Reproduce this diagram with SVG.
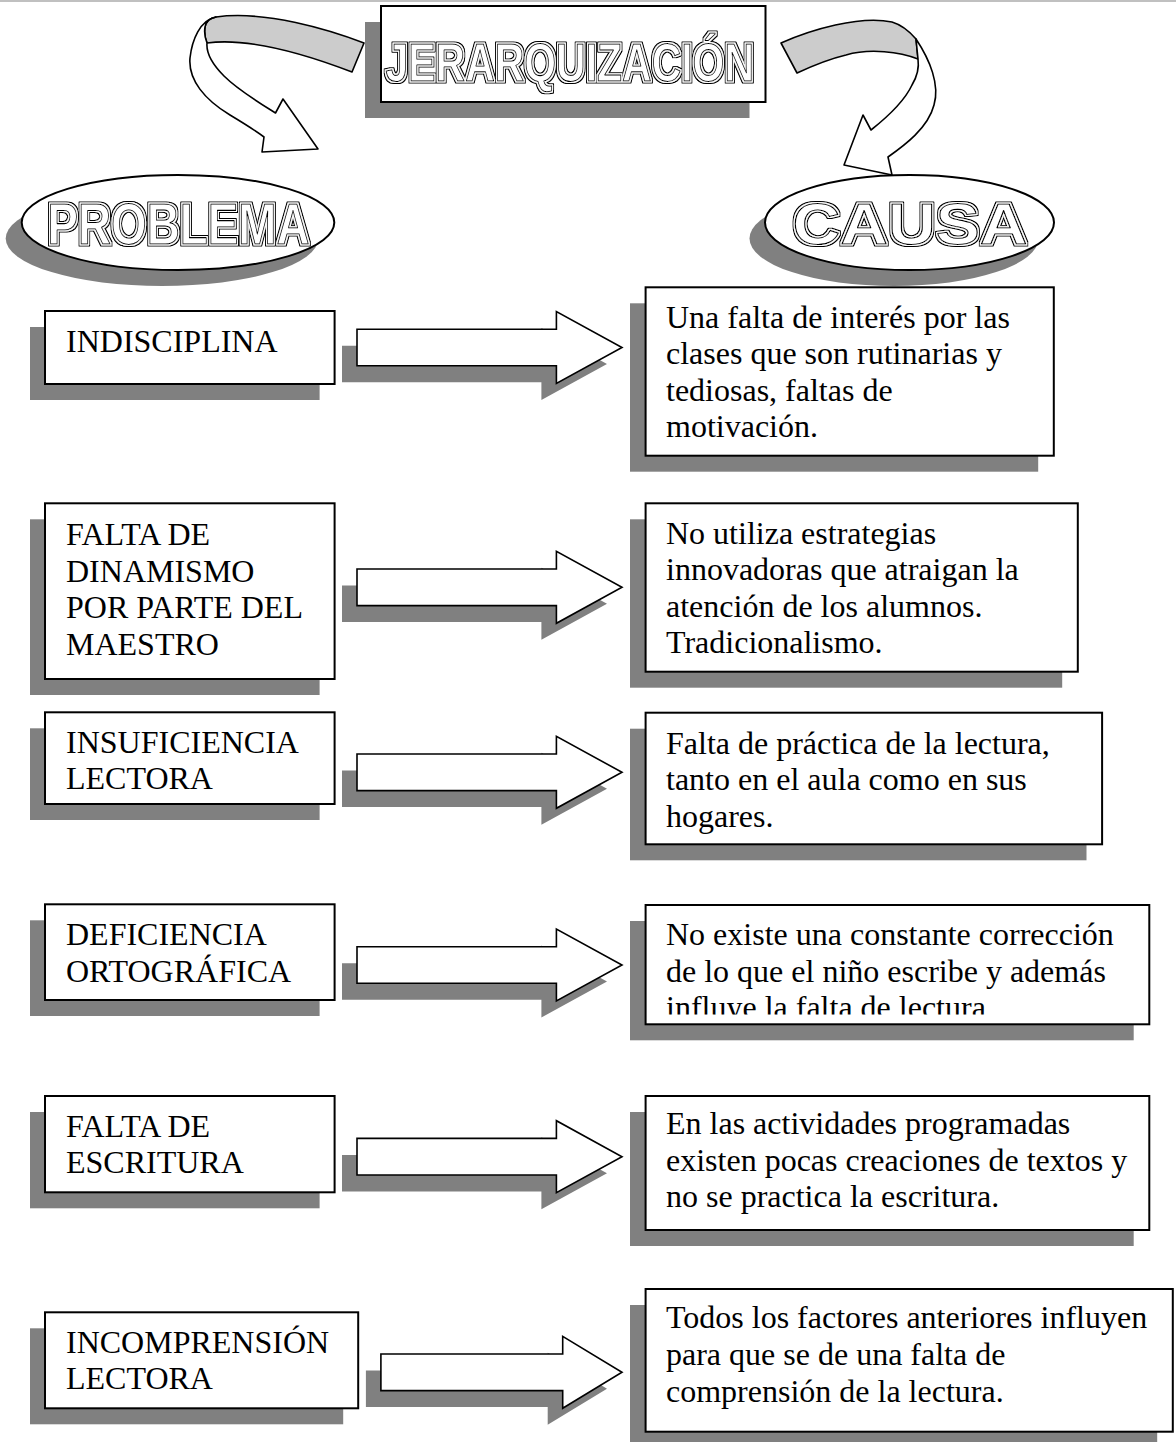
<svg xmlns="http://www.w3.org/2000/svg" width="1176" height="1442" viewBox="0 0 1176 1442">
<defs>
<style>
.box{fill:#fff;stroke:#000;stroke-width:2}
.sh{fill:#808080;stroke:none}
.arr{fill:#fff;stroke:#000;stroke-width:1.6;stroke-linejoin:miter}
.t{font-family:"Liberation Serif","Times New Roman",serif;font-size:32px;fill:#000}
.ol{font-family:"Liberation Sans Narrow","Liberation Sans",Arial,sans-serif;font-weight:bold;fill:#fff;stroke:#000;stroke-width:1.1;stroke-linejoin:round;filter:url(#dbl)}
.band{fill:#ccc;stroke:#000;stroke-width:1.6;stroke-linejoin:round}
.rib{fill:#fff;stroke:#000;stroke-width:1.6;stroke-linejoin:round}
.ell{fill:#fff;stroke:#000;stroke-width:2}
</style>
<filter id="dbl" x="-5%" y="-25%" width="110%" height="150%">
<feMorphology in="SourceAlpha" operator="dilate" radius="2.3" result="o"/>
<feMorphology in="SourceAlpha" operator="dilate" radius="1.4" result="i"/>
<feFlood flood-color="#fff" result="w"/>
<feComposite in="w" in2="i" operator="in" result="wi"/>
<feMerge><feMergeNode in="o"/><feMergeNode in="wi"/><feMergeNode in="SourceGraphic"/></feMerge>
</filter>
<path id="a1" d="M357,-18.3 H556.4 V-36 L622,0 L556.4,36 V18.3 H357 Z"/>
<path id="a2" d="M380.9,-18.3 H562.7 V-36 L622,0 L562.7,36 V18.3 H380.9 Z"/>
<clipPath id="c4"><rect x="640" y="900" width="520" height="114.5"/></clipPath>
</defs>

<rect width="1176" height="1442" fill="#fff"/>
<line x1="0" y1="1" x2="1176" y2="1" stroke="#c0c0c0" stroke-width="2"/>

<g id="connectors">
  <g id="curve-left">
    <path class="band" d="M364,43 C330,30 265,10 216,17 C210,18 206,22 205,27 C204,33 205,38 207,43 C245,38 300,52 352,72 Z"/>
    <path class="rib" d="M216,17 C200,20 192,40 190,58 C188,80 205,100 230,115 C245,124 256,131 264,137 L262,152 L318,149 L283,99 L275.5,113 C258,102 238,90 224,76 C212,64 206,54 207,43 C205,38 204,33 205,27 C206,22 210,18 216,17 Z"/>
  </g>
  <g id="curve-right">
    <path class="band" d="M781,43 C810,30 860,15 892,22 C902,25 910,32 916,39 L918,59 C900,52 870,48 846,55 C825,60 810,67 797,73 Z"/>
    <path class="rib" d="M916,39 C930,60 940,85 934,105 C928,128 905,145 888,157 L892,175 L844,165 L863,115 L871,130 C890,115 905,100 912,85 C918,75 919,66 918,59 Z"/>
  </g>
  <g id="arrow1"><use href="#a1" class="sh" transform="translate(-15,364)"/><use href="#a1" class="arr" transform="translate(0,347.5)"/></g>
  <g id="arrow2"><use href="#a1" class="sh" transform="translate(-15,603.8)"/><use href="#a1" class="arr" transform="translate(0,587.3)"/></g>
  <g id="arrow3"><use href="#a1" class="sh" transform="translate(-15,788.8)"/><use href="#a1" class="arr" transform="translate(0,772.3)"/></g>
  <g id="arrow4"><use href="#a1" class="sh" transform="translate(-15,981.5)"/><use href="#a1" class="arr" transform="translate(0,965)"/></g>
  <g id="arrow5"><use href="#a1" class="sh" transform="translate(-15,1173.2)"/><use href="#a1" class="arr" transform="translate(0,1156.7)"/></g>
  <g id="arrow6"><use href="#a2" class="sh" transform="translate(-15,1388.8)"/><use href="#a2" class="arr" transform="translate(0,1372.3)"/></g>
</g>

<g id="jerarquizacion">
  <rect class="sh" x="365" y="22" width="384.5" height="96"/>
  <rect class="box" x="381" y="6" width="384.5" height="96"/>
  <text class="ol" x="385.5" y="81" font-size="53" textLength="368.5" lengthAdjust="spacingAndGlyphs">JERARQUIZACIÓN</text>
</g>

<g id="problema">
  <ellipse class="sh" cx="162" cy="238.5" rx="156.3" ry="47.5"/>
  <ellipse class="ell" cx="178" cy="222.5" rx="156.3" ry="47.5"/>
  <text class="ol" x="47.5" y="243.5" font-size="57" textLength="262" lengthAdjust="spacingAndGlyphs">PROBLEMA</text>
</g>

<g id="causa">
  <ellipse class="sh" cx="894" cy="238.5" rx="144.5" ry="47.5"/>
  <ellipse class="ell" cx="909.5" cy="222.5" rx="144.5" ry="47.5"/>
  <text class="ol" x="792.5" y="243.5" font-size="57" textLength="235" lengthAdjust="spacingAndGlyphs">CAUSA</text>
</g>

<g id="p1">
  <rect class="sh" x="30" y="327" width="289.6" height="73"/>
  <rect class="box" x="45" y="311" width="289.6" height="73"/>
  <text class="t" x="66" y="352.3">INDISCIPLINA</text>
</g>
<g id="p2">
  <rect class="sh" x="30" y="519.3" width="289.6" height="175.7"/>
  <rect class="box" x="45" y="503.3" width="289.6" height="175.7"/>
  <text class="t"><tspan x="66" y="545">FALTA DE</tspan><tspan x="66" y="581.5">DINAMISMO</tspan><tspan x="66" y="618">POR PARTE DEL</tspan><tspan x="66" y="654.5">MAESTRO</tspan></text>
</g>
<g id="p3">
  <rect class="sh" x="30" y="728.3" width="289.6" height="91.7"/>
  <rect class="box" x="45" y="712.3" width="289.6" height="91.7"/>
  <text class="t"><tspan x="66" y="752.7">INSUFICIENCIA</tspan><tspan x="66" y="789.3">LECTORA</tspan></text>
</g>
<g id="p4">
  <rect class="sh" x="30" y="920.3" width="289.6" height="95.7"/>
  <rect class="box" x="45" y="904.3" width="289.6" height="95.7"/>
  <text class="t"><tspan x="66" y="945">DEFICIENCIA</tspan><tspan x="66" y="981.7">ORTOGRÁFICA</tspan></text>
</g>
<g id="p5">
  <rect class="sh" x="30" y="1112" width="289.6" height="96.3"/>
  <rect class="box" x="45" y="1096" width="289.6" height="96.3"/>
  <text class="t"><tspan x="66" y="1136.7">FALTA DE</tspan><tspan x="66" y="1173.3">ESCRITURA</tspan></text>
</g>
<g id="p6">
  <rect class="sh" x="30" y="1328.3" width="313.2" height="96"/>
  <rect class="box" x="45" y="1312.3" width="313.2" height="96"/>
  <text class="t"><tspan x="66" y="1353.3">INCOMPRENSIÓN</tspan><tspan x="66" y="1389.3">LECTORA</tspan></text>
</g>

<g id="c1">
  <rect class="sh" x="630" y="303.3" width="408.2" height="168.4"/>
  <rect class="box" x="645.6" y="287.3" width="408.2" height="168.4"/>
  <text class="t"><tspan x="666" y="327.5">Una falta de interés por las</tspan><tspan x="666" y="364">clases que son rutinarias y</tspan><tspan x="666" y="400.5">tediosas, faltas de</tspan><tspan x="666" y="437">motivación.</tspan></text>
</g>
<g id="c2">
  <rect class="sh" x="630" y="519.3" width="432.2" height="168.4"/>
  <rect class="box" x="645.6" y="503.3" width="432.2" height="168.4"/>
  <text class="t"><tspan x="666" y="543.5">No utiliza estrategias</tspan><tspan x="666" y="580">innovadoras que atraigan la</tspan><tspan x="666" y="616.5">atención de los alumnos.</tspan><tspan x="666" y="653">Tradicionalismo.</tspan></text>
</g>
<g id="c3">
  <rect class="sh" x="630" y="728.7" width="456.5" height="131.6"/>
  <rect class="box" x="645.6" y="712.7" width="456.5" height="131.6"/>
  <text class="t"><tspan x="666" y="753.5">Falta de práctica de la lectura,</tspan><tspan x="666" y="790">tanto en el aula como en sus</tspan><tspan x="666" y="826.5">hogares.</tspan></text>
</g>
<g id="c4g">
  <rect class="sh" x="630" y="921" width="503.7" height="119.3"/>
  <rect class="box" x="645.6" y="905" width="503.7" height="119.3"/>
  <text class="t" clip-path="url(#c4)"><tspan x="666" y="945">No existe una constante corrección</tspan><tspan x="666" y="981.7">de lo que el niño escribe y además</tspan><tspan x="666" y="1018.3">influye la falta de lectura</tspan></text>
</g>
<g id="c5">
  <rect class="sh" x="630" y="1112" width="503.7" height="134"/>
  <rect class="box" x="645.6" y="1096" width="503.7" height="134"/>
  <text class="t"><tspan x="666" y="1134">En las actividades programadas</tspan><tspan x="666" y="1170.5">existen pocas creaciones de textos y</tspan><tspan x="666" y="1207">no se practica la escritura.</tspan></text>
</g>
<g id="c6">
  <rect class="sh" x="630" y="1305" width="527.2" height="142.7"/>
  <rect class="box" x="645.6" y="1289" width="527.2" height="142.7"/>
  <text class="t"><tspan x="666" y="1328.3">Todos los factores anteriores influyen</tspan><tspan x="666" y="1365">para que se de una falta de</tspan><tspan x="666" y="1401.7">comprensión de la lectura.</tspan></text>
</g>
</svg>
